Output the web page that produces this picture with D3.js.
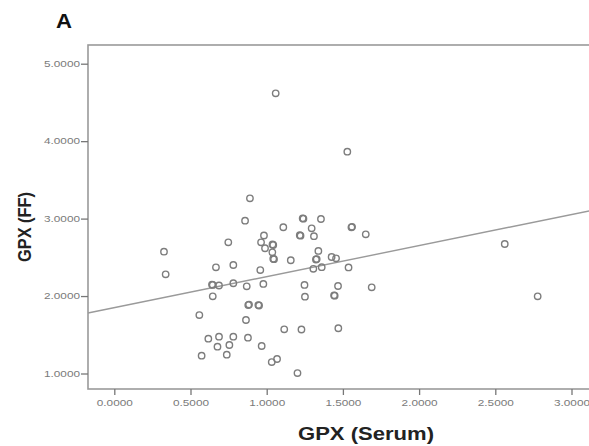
<!DOCTYPE html>
<html>
<head>
<meta charset="utf-8">
<script src="https://cdn.jsdelivr.net/npm/d3@7"></script>
<style>
html,body{margin:0;padding:0;background:#fff;overflow:hidden;}
svg{display:block;}
</style>
</head>
<body>
<svg id="chart" width="589" height="446"></svg>
<script>
// ---- data ----
const serum = [1.059,1.529,2.562,2.778,0.326,0.337,0.748,0.667,0.781,0.646,0.641,0.687,0.781,0.869,0.978,
  0.646,0.558,0.879,0.884,0.945,0.950,0.864,0.617,0.687,0.781,0.877,0.677,0.755,0.967,0.573,0.738,1.033,1.068,
  1.202,1.115,1.228,1.470,1.248,1.251,1.468,1.446,1.442,1.689,0.890,0.858,1.109,1.241,1.236,1.356,1.295,
  1.222,1.217,1.310,1.560,1.556,1.650,0.982,0.963,1.043,1.038,0.989,1.037,1.043,1.048,1.158,0.958,1.339,
  1.328,1.323,1.426,1.455,1.306,1.361,1.537];
const ff = [4.618,3.864,2.672,1.997,2.573,2.281,2.694,2.371,2.401,2.143,2.148,2.136,2.165,2.126,2.156,
  1.997,1.755,1.884,1.890,1.884,1.878,1.691,1.449,1.475,1.475,1.462,1.346,1.368,1.355,1.230,1.243,1.148,1.187,
  1.006,1.571,1.568,1.584,2.143,1.992,2.130,2.005,2.010,2.113,3.262,2.973,2.888,2.999,3.004,2.995,2.875,
  2.779,2.786,2.773,2.894,2.887,2.797,2.782,2.694,2.659,2.666,2.617,2.565,2.482,2.476,2.462,2.336,2.582,
  2.478,2.472,2.504,2.487,2.352,2.373,2.369];
const xTicks = [0, 0.5, 1.0, 1.5, 2.0, 2.5, 3.0];
const yTicks = [1, 2, 3, 4, 5];
const fitIntercept = [1.850];
const fitSlope = [0.4007];
const panelLabel = "A";
const xTitle = "GPX (Serum)";
const yTitle = "GPX (FF)";

// ---- layout ----
const svg = d3.select("#chart");
const frame = {left: 88, top: 45, bottom: 389, right: 640};
const x = d3.scaleLinear().domain([0, 3]).range([114.3, 571.5]);
const y = d3.scaleLinear().domain([1, 5]).range([373.5, 63.7]);
const xMin = x.invert(frame.left), xMax = x.invert(frame.right);
const fmt = d3.format(".4f");
const FONT = "'Liberation Sans', Arial, sans-serif";

// frame
svg.append("rect")
  .attr("x", frame.left).attr("y", frame.top)
  .attr("width", frame.right - frame.left).attr("height", frame.bottom - frame.top)
  .attr("fill", "none").attr("stroke", "#9a9a9a").attr("stroke-width", 1.6);

// y axis
const yAxis = svg.append("g").attr("transform", `translate(${frame.left},0)`)
  .call(d3.axisLeft(y).tickValues(yTicks).tickSize(7).tickPadding(1).tickFormat(fmt));
yAxis.select(".domain").remove();
yAxis.selectAll("line").attr("stroke", "#777").attr("stroke-width", 1.3);
yAxis.selectAll("text").attr("font-family", FONT).attr("font-size", 8.5).attr("fill", "#7a7a7a")
  .attr("textLength", 36).attr("lengthAdjust", "spacingAndGlyphs");

// x axis
const xAxis = svg.append("g").attr("transform", `translate(0,${frame.bottom})`)
  .call(d3.axisBottom(x).tickValues(xTicks).tickSize(6).tickPadding(5).tickFormat(fmt));
xAxis.select(".domain").remove();
xAxis.selectAll("line").attr("stroke", "#777").attr("stroke-width", 1.3);
xAxis.selectAll("text").attr("font-family", FONT).attr("font-size", 8.5).attr("fill", "#7a7a7a")
  .attr("textLength", 36).attr("lengthAdjust", "spacingAndGlyphs");

// regression line
const line = d3.line().x(d => x(d)).y(d => y(fitIntercept[0] + fitSlope[0] * d));
svg.append("path").datum([xMin, xMax])
  .attr("d", line).attr("fill", "none").attr("stroke", "#9a9a9a").attr("stroke-width", 1.4);

// points
svg.append("g").selectAll("circle").data(serum.map((s, i) => [s, ff[i]]))
  .join("circle")
  .attr("cx", d => x(d[0])).attr("cy", d => y(d[1]))
  .attr("r", 3.2).attr("fill", "none").attr("stroke", "#7d7d7d").attr("stroke-width", 1.4);

// titles
svg.append("text").text(panelLabel)
  .attr("x", 56).attr("y", 28).attr("font-family", FONT).attr("font-weight", "bold")
  .attr("font-size", 21).attr("fill", "#111")
  .attr("textLength", 16).attr("lengthAdjust", "spacingAndGlyphs");

svg.append("text").text(xTitle)
  .attr("x", 366).attr("y", 440).attr("text-anchor", "middle")
  .attr("font-family", FONT).attr("font-weight", "bold").attr("font-size", 18.5).attr("fill", "#222")
  .attr("textLength", 136).attr("lengthAdjust", "spacingAndGlyphs");

svg.append("text").text(yTitle)
  .attr("transform", "translate(31,227) rotate(-90) scale(1,1.2)")
  .attr("text-anchor", "middle")
  .attr("font-family", FONT).attr("font-weight", "bold").attr("font-size", 15.5).attr("fill", "#222")
  .attr("textLength", 70).attr("lengthAdjust", "spacingAndGlyphs");
</script>
</body>
</html>
